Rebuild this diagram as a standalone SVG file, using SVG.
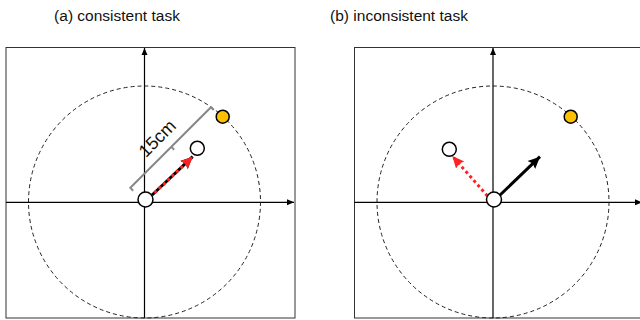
<svg xmlns="http://www.w3.org/2000/svg" width="640" height="320" viewBox="0 0 640 320">
  <style>
    .title { font-family: "Liberation Sans", Arial, sans-serif; font-size: 15.5px; fill: #111; }
    .frame { fill: none; stroke: #333; stroke-width: 1; }
    .axis { fill: none; stroke: #000; stroke-width: 1.2; }
    .ring { fill: none; stroke: #222; stroke-width: 1; stroke-dasharray: 4 3; }
    .dot { stroke: #000; stroke-width: 1.5; }
    .white { fill: #fff; }
    .gold { fill: #FFC000; }
    .black-arrow { stroke: #000; stroke-width: 3; fill: none; }
    .red-arrow { stroke: #F22; stroke-width: 3; fill: none; stroke-dasharray: 3 3; }
    .bracket { stroke: #888; stroke-width: 2; fill: none; }
    .dim { font-family: "Liberation Sans", Arial, sans-serif; font-size: 18px; fill: #111; }
  </style>
  <defs>
    <marker id="axisHead" markerWidth="8" markerHeight="8" refX="7" refY="4" orient="auto" markerUnits="userSpaceOnUse">
      <path d="M0,1 L7,4 L0,7 Z" fill="#000"/>
    </marker>
    <marker id="blackHead" markerWidth="13" markerHeight="13" refX="12" refY="6.5" orient="auto" markerUnits="userSpaceOnUse">
      <path d="M0,1 L12,6.5 L0,12 L2,6.5 Z" fill="#000"/>
    </marker>
    <marker id="redHead" markerWidth="13" markerHeight="13" refX="12" refY="6.5" orient="auto" markerUnits="userSpaceOnUse">
      <path d="M0,1 L12,6.5 L0,12 L2,6.5 Z" fill="#F22"/>
    </marker>
  </defs>

  <rect width="640" height="320" fill="#fff"/>

  <text class="title" x="117" y="21" text-anchor="middle">(a) consistent task</text>
  <text class="title" x="399" y="21" text-anchor="middle">(b) inconsistent task</text>

  <!-- panel (a) -->
  <g id="panel-a">
    <rect class="frame" x="6" y="47.5" width="289" height="270.5"/>
    <line class="axis" x1="6" y1="202.3" x2="294" y2="202.3" marker-end="url(#axisHead)"/>
    <line class="axis" x1="144.5" y1="318" x2="144.5" y2="48" marker-end="url(#axisHead)"/>
    <circle class="ring" cx="144.5" cy="202" r="116"/>
    <!-- radius bracket and its label -->
    <g id="bracket-a" transform="translate(144.5 202) rotate(-45)">
      <path class="bracket" d="M0,-16 L0,-20 L114,-20 L114,-16 M58,-20 L58,-16"/>
      <text class="dim" x="54" y="-30" text-anchor="middle">15cm</text>
    </g>
  </g>
  <g id="connectors-a">
    <line class="black-arrow" x1="150" y1="197" x2="192.7" y2="156.7" marker-end="url(#blackHead)"/>
    <line class="red-arrow" x1="150" y1="197" x2="192.7" y2="156.7" marker-end="url(#redHead)"/>
  </g>
  <g id="target-a"><circle class="dot gold" cx="222.7" cy="116.7" r="6.5"/></g>
  <g id="cursor-a"><circle class="dot white" cx="197.3" cy="148.3" r="7"/></g>
  <g id="origin-a"><circle class="dot white" cx="145.5" cy="199.5" r="7.5"/></g>

  <!-- panel (b) -->
  <g id="panel-b">
    <rect class="frame" x="354.5" y="47.5" width="289" height="270.5"/>
    <line class="axis" x1="354.5" y1="202.3" x2="642" y2="202.3" marker-end="url(#axisHead)"/>
    <line class="axis" x1="493" y1="318" x2="493" y2="48" marker-end="url(#axisHead)"/>
    <circle class="ring" cx="493" cy="202" r="116"/>
  </g>
  <g id="connectors-b">
    <line class="black-arrow" x1="499" y1="196" x2="540" y2="156.7" marker-end="url(#blackHead)"/>
    <line class="red-arrow" x1="487.5" y1="196" x2="452.3" y2="156" marker-end="url(#redHead)"/>
  </g>
  <g id="target-b"><circle class="dot gold" cx="570.7" cy="116.7" r="6.5"/></g>
  <g id="cursor-b"><circle class="dot white" cx="449.3" cy="149.3" r="7"/></g>
  <g id="origin-b"><circle class="dot white" cx="494" cy="199.5" r="7.5"/></g>
</svg>
